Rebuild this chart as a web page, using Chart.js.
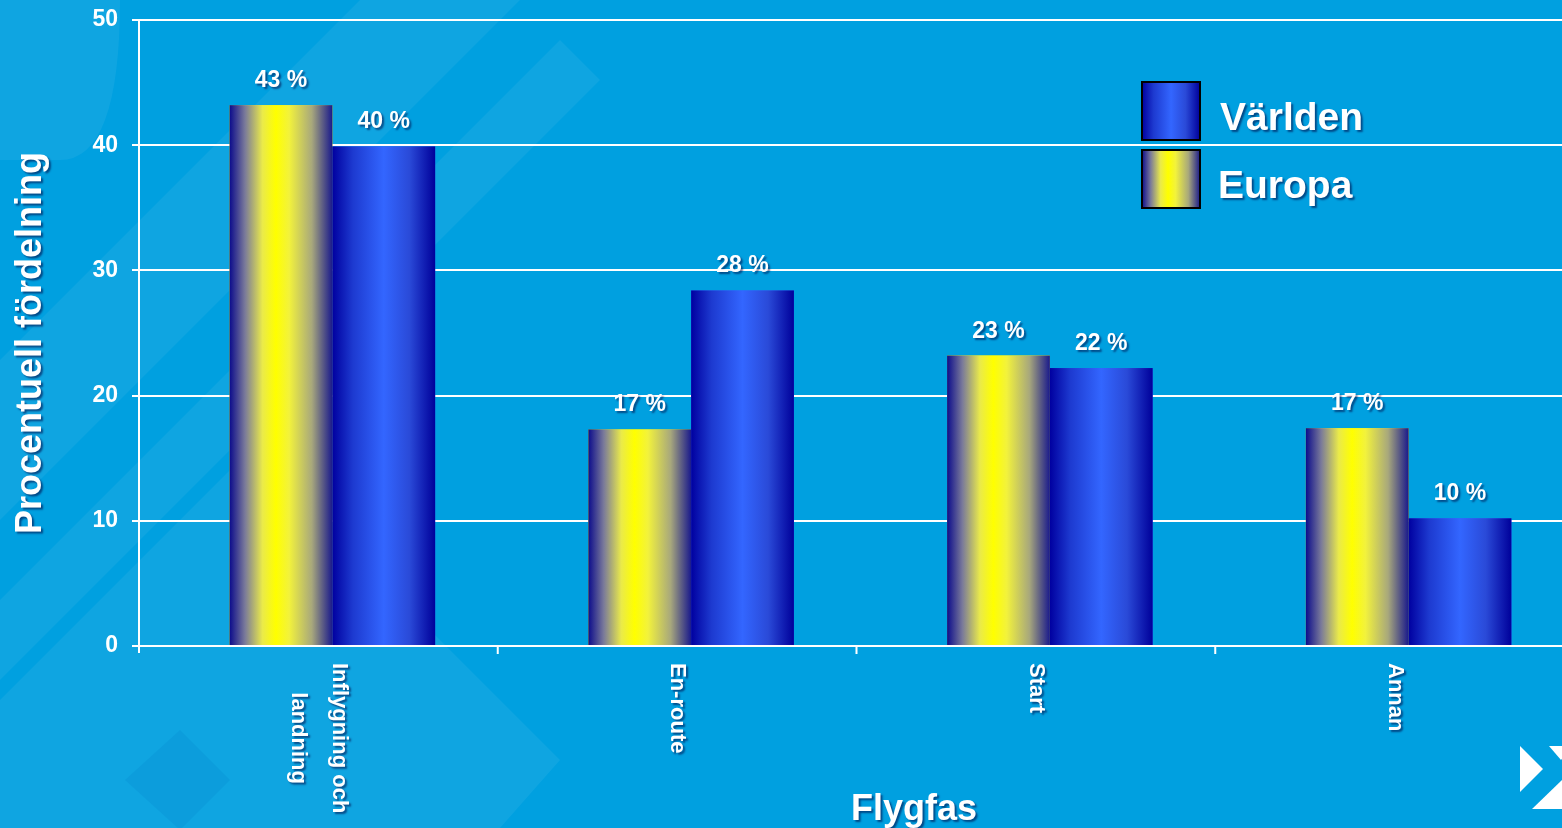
<!DOCTYPE html>
<html>
<head>
<meta charset="utf-8">
<script src="https://cdn.jsdelivr.net/npm/chart.js@4"></script>
<style>
  html, body { margin: 0; padding: 0; overflow: hidden; background: #00a0e0; }
  #wrap { width: 1588px; height: 828px; }
</style>
</head>
<body>
<div id="wrap"><canvas id="myChart"></canvas></div>
<script>
const categories = [['Inflygning och', 'landning'], 'En-route', 'Start', 'Annan'];
const europa = [43.2, 17.3, 23.2, 17.4];
const varlden = [39.9, 28.4, 22.2, 10.2];
const yTicks = [0, 10, 20, 30, 40, 50];
const seriesNames = ['Europa', 'Världen'];

const FONT = 'Arial, "Liberation Sans", sans-serif';
// the axis line, tick marks and category labels sit a bit left of the bar groups
const AXIS_SHIFT = 14;

function barGradient(ctx, left, width, series) {
    const g = ctx.createLinearGradient(left, 0, left + width, 0);
    if (series === 0) {
        g.addColorStop(0, '#0c0c8c');
        g.addColorStop(0.15, '#7a7a9a');
        g.addColorStop(0.32, '#eaea4a');
        g.addColorStop(0.45, '#ffff00');
        g.addColorStop(0.58, '#f2f23c');
        g.addColorStop(0.8, '#a8a87c');
        g.addColorStop(1, '#1a1a8c');
    } else {
        g.addColorStop(0, '#0000a0');
        g.addColorStop(0.2, '#1d3ad0');
        g.addColorStop(0.5, '#3366ff');
        g.addColorStop(0.75, '#2a4ad8');
        g.addColorStop(1, '#00009a');
    }
    return g;
}

function shadowOn(ctx) {
    ctx.shadowColor = 'rgba(0, 0, 60, 0.55)';
    ctx.shadowOffsetX = 2;
    ctx.shadowOffsetY = 2;
    ctx.shadowBlur = 2;
}

const decor = {
    id: 'decor',
    beforeDraw(chart) {
        const c = chart.ctx;
        c.save();
        c.fillStyle = '#00a0e0';
        c.fillRect(0, 0, chart.width, chart.height);
        c.fillStyle = 'rgba(255,255,255,0.06)';
        c.beginPath();
        c.moveTo(0, 360); c.lineTo(360, 0); c.lineTo(520, 0); c.lineTo(0, 520);
        c.closePath(); c.fill();
        c.beginPath();
        c.moveTo(0, 600); c.lineTo(560, 40); c.lineTo(600, 80); c.lineTo(0, 680);
        c.closePath(); c.fill();
        c.beginPath();
        c.moveTo(0, 0); c.lineTo(120, 0); c.quadraticCurveTo(120, 160, 60, 160); c.lineTo(0, 160);
        c.closePath(); c.fill();
        c.beginPath();
        c.moveTo(0, 700); c.lineTo(250, 450); c.lineTo(560, 760); c.lineTo(500, 828); c.lineTo(0, 828);
        c.closePath(); c.fill();
        c.fillStyle = 'rgba(0,120,200,0.18)';
        c.beginPath();
        c.moveTo(125, 780); c.lineTo(180, 730); c.lineTo(230, 780); c.lineTo(180, 830);
        c.closePath(); c.fill();
        // logo chevrons bottom right
        c.fillStyle = '#ffffff';
        c.beginPath();
        c.moveTo(1520, 746); c.lineTo(1543, 769); c.lineTo(1520, 792);
        c.closePath(); c.fill();
        c.beginPath();
        c.moveTo(1549, 746); c.lineTo(1572, 746); c.lineTo(1561, 760);
        c.closePath(); c.fill();
        c.beginPath();
        c.moveTo(1532, 809); c.lineTo(1572, 809); c.lineTo(1562, 780);
        c.closePath(); c.fill();
        c.restore();
    }
};

const overlay = {
    id: 'overlay',
    afterDatasetsDraw(chart) {
        const c = chart.ctx;
        chart.data.datasets.forEach((ds, di) => {
            const meta = chart.getDatasetMeta(di);
            meta.data.forEach(bar => {
                const left = bar.x - bar.width / 2;
                c.fillStyle = barGradient(c, left, bar.width, di);
                c.fillRect(left, bar.y, bar.width, bar.base - bar.y);
            });
        });
    },
    afterDraw(chart) {
        const c = chart.ctx;
        const area = chart.chartArea;
        const xs = chart.scales.x;
        const step = xs.getPixelForTick(1) - xs.getPixelForTick(0);
        c.save();

        // y axis line and x tick marks
        c.strokeStyle = '#ffffff';
        c.lineWidth = 2;
        c.beginPath();
        c.moveTo(area.left - AXIS_SHIFT, area.top);
        c.lineTo(area.left - AXIS_SHIFT, area.bottom + 7);
        for (let i = 1; i < categories.length; i++) {
            const x = xs.getPixelForTick(i) - step / 2 - AXIS_SHIFT;
            c.moveTo(x, area.bottom);
            c.lineTo(x, area.bottom + 8);
        }
        c.stroke();

        c.fillStyle = '#ffffff';
        shadowOn(c);

        // value labels
        c.font = 'bold 23px ' + FONT;
        c.textAlign = 'center';
        c.textBaseline = 'alphabetic';
        chart.data.datasets.forEach((ds, di) => {
            chart.getDatasetMeta(di).data.forEach((bar, i) => {
                c.fillText(Math.round(ds.data[i]) + ' %', bar.x, bar.y - 18);
            });
        });

        // category labels, rotated clockwise
        c.font = 'bold 22px ' + FONT;
        c.textBaseline = 'middle';
        const lineH = 41;
        categories.forEach((lab, i) => {
            const lines = Array.isArray(lab) ? lab : [lab];
            const maxW = Math.max(...lines.map(l => c.measureText(l).width));
            const x = xs.getPixelForTick(i) - AXIS_SHIFT;
            c.save();
            c.translate(x, area.bottom + 17);
            c.rotate(Math.PI / 2);
            c.textAlign = 'center';
            lines.forEach((l, k) => {
                const off = (k - (lines.length - 1) / 2) * lineH;
                c.fillText(l, maxW / 2, off);
            });
            c.restore();
        });

        // axis titles
        c.font = 'bold 36px ' + FONT;
        c.textAlign = 'center';
        c.textBaseline = 'middle';
        c.fillText('Flygfas', 914, 810);
        c.save();
        c.translate(31, 343);
        c.rotate(-Math.PI / 2);
        c.fillText('Procentuell fördelning', 0, 0);
        c.restore();

        // legend (Världen above Europa)
        const order = [1, 0];
        const bx = 1142;
        order.forEach((di, k) => {
            const by = 82 + k * 68;
            c.shadowColor = 'transparent';
            c.fillStyle = barGradient(c, bx, 58, di);
            c.fillRect(bx, by, 58, 58);
            c.strokeStyle = '#000000';
            c.lineWidth = 2;
            c.strokeRect(bx, by, 58, 58);
            shadowOn(c);
            c.fillStyle = '#ffffff';
            c.font = 'bold 39px ' + FONT;
            c.textAlign = 'left';
            c.textBaseline = 'alphabetic';
            c.fillText(seriesNames[di], bx + 78 - k * 2, by + 48);
        });
        c.restore();
    }
};

const ctx = document.getElementById('myChart');

new Chart(ctx, {
    type: 'bar',
    data: {
        labels: categories,
        datasets: [
            { label: seriesNames[0], data: europa, backgroundColor: '#ffff00', borderWidth: 0 },
            { label: seriesNames[1], data: varlden, backgroundColor: '#3366ff', borderWidth: 0 }
        ]
    },
    options: {
        responsive: true,
        maintainAspectRatio: false,
        animation: false,
        layout: { padding: { top: 20, left: 0, right: 0, bottom: 0 } },
        datasets: {
            bar: { barPercentage: 1.0, categoryPercentage: 0.573 }
        },
        plugins: {
            legend: { display: false },
            tooltip: { enabled: false }
        },
        scales: {
            x: {
                grid: { display: false },
                border: { color: '#ffffff', width: 2 },
                ticks: { display: false },
                afterFit(scale) { scale.height = 182; }
            },
            y: {
                min: 0,
                max: yTicks[yTicks.length - 1],
                afterBuildTicks(scale) { scale.ticks = yTicks.map(v => ({ value: v })); },
                grid: {
                    color: '#ffffff',
                    lineWidth: 2,
                    tickLength: 21
                },
                border: { display: false },
                ticks: {
                    color: '#ffffff',
                    padding: 14,
                    font: { family: FONT, size: 23, weight: 'bold' }
                },
                afterFit(scale) {
                    scale.width = 153;
                    scale.paddingTop = 0;
                    scale.paddingBottom = 0;
                }
            }
        }
    },
    plugins: [decor, overlay]
});
</script>
</body>
</html>
